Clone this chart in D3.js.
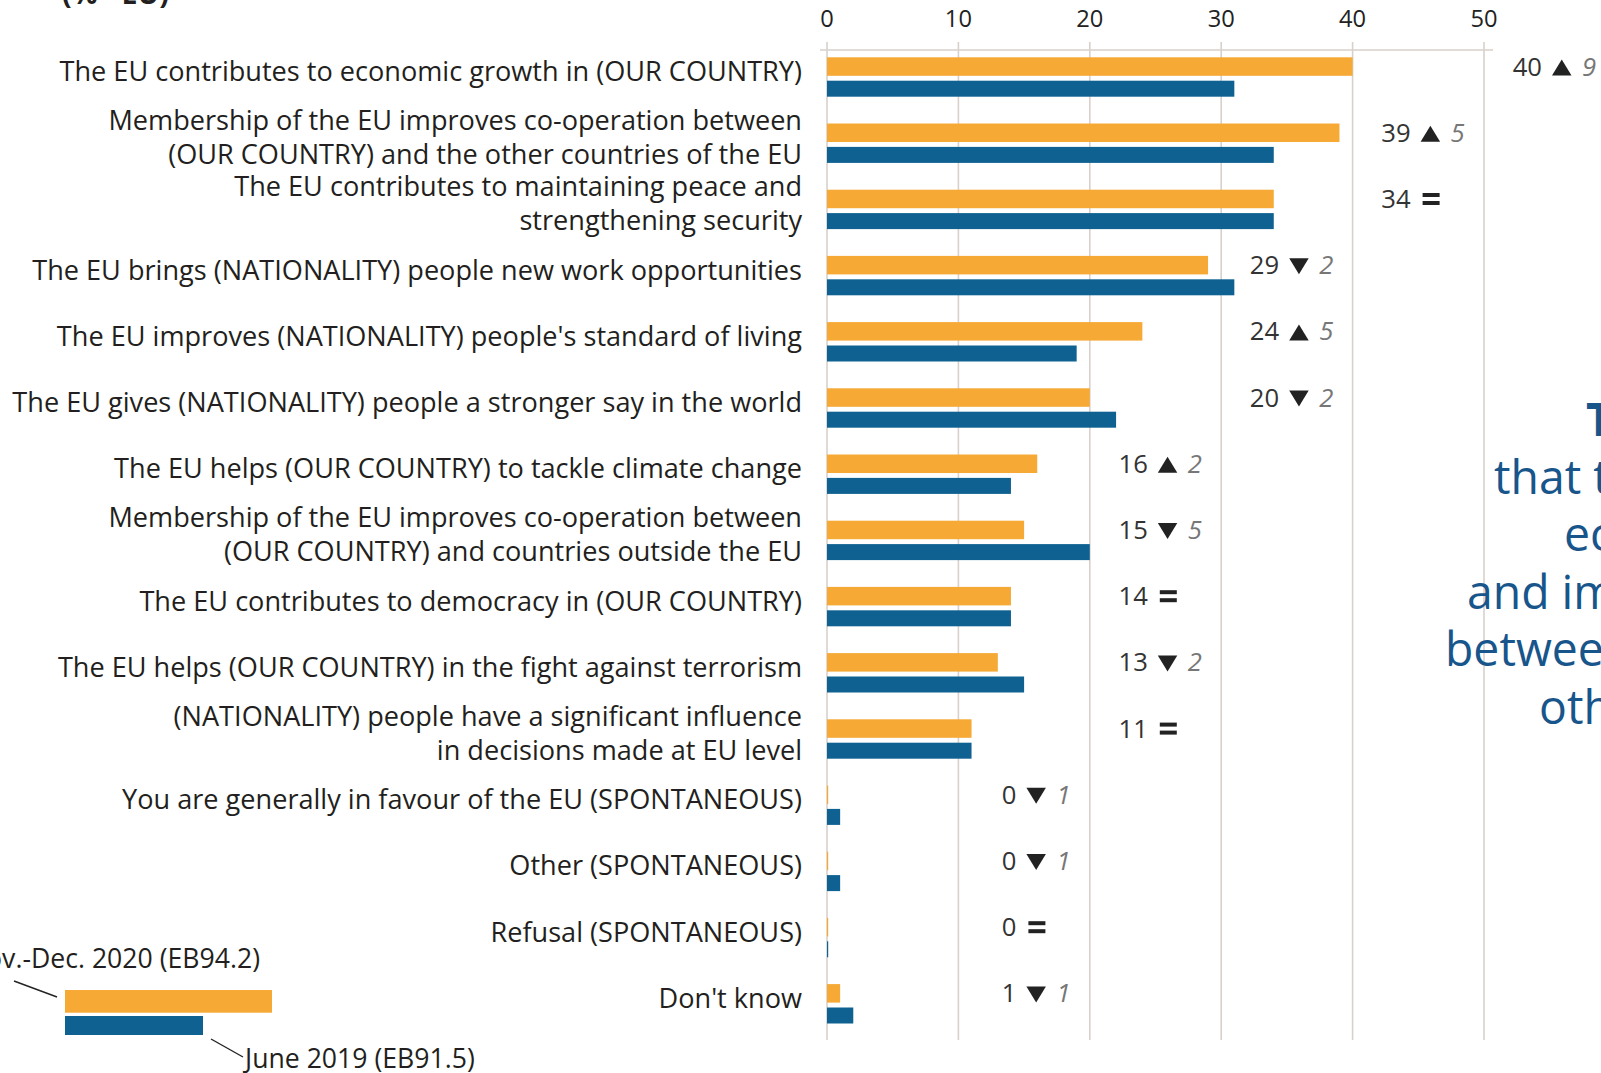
<!DOCTYPE html>
<html><head><meta charset="utf-8">
<script src="https://cdn.jsdelivr.net/npm/d3@7"></script>
<style>html,body{margin:0;padding:0;background:#fff;overflow:hidden;} svg{display:block;}</style>
</head><body>
<svg id="chart" width="1601" height="1073"></svg>
<script>
// ---------- DATA ----------
const categories = [
  "The EU contributes to economic growth in (OUR COUNTRY)",
  "Membership of the EU improves co-operation between|(OUR COUNTRY) and the other countries of the EU",
  "The EU contributes to maintaining peace and|strengthening security",
  "The EU brings (NATIONALITY) people new work opportunities",
  "The EU improves (NATIONALITY) people's standard of living",
  "The EU gives (NATIONALITY) people a stronger say in the world",
  "The EU helps (OUR COUNTRY) to tackle climate change",
  "Membership of the EU improves co-operation between|(OUR COUNTRY) and countries outside the EU",
  "The EU contributes to democracy in (OUR COUNTRY)",
  "The EU helps (OUR COUNTRY) in the fight against terrorism",
  "(NATIONALITY) people have a significant influence|in decisions made at EU level",
  "You are generally in favour of the EU (SPONTANEOUS)",
  "Other (SPONTANEOUS)",
  "Refusal (SPONTANEOUS)",
  "Don't know"
];
const values2020 = [40, 39, 34, 29, 24, 20, 16, 15, 14, 13, 11, 0, 0, 0, 1];
const values2019 = [31, 34, 34, 31, 19, 22, 14, 20, 14, 15, 11, 1, 1, 0, 2];
const changes    = [ 9,  5,  0, -2,  5, -2,  2, -5,  0, -2,  0, -1, -1, 0, -1];
const xTicks = [0, 10, 20, 30, 40, 50];
const seriesNames = ["Nov.-Dec. 2020 (EB94.2)", "June 2019 (EB91.5)"];
const unitLabel = "(% - EU)";
const calloutLines = [
  "The top reasons",
  "that the EU contributes to",
  "economic growth",
  "and improves co-operation",
  "between (OUR COUNTRY) and the",
  "other countries of the EU"
];

// ---------- STYLE ----------
const FONT = "'Open Sans', 'Noto Sans', sans-serif";
const ORANGE = "#f6a935", BLUE = "#0f6192", GRID = "#d8d1cb", TXT = "#231f20";
const CALLOUT = "#17558b";

const svg = d3.select("#chart");
const x = d3.scaleLinear().domain([0, 50]).range([827, 1484]);
const y = d3.scaleBand().domain(categories).range([49, 49 + 15 * 66.2]);

// horizontal condensation factor to mimic the narrow source typeface
const probe = svg.append("text").attr("font-family", FONT).attr("font-size", 27.5).text(categories[0]);
const sx = 743 / probe.node().getComputedTextLength();
probe.remove();

function stext(g, tx, ty, str, size, anchor) {
  return g.append("text")
    .attr("transform", `translate(${tx},${ty}) scale(${sx},1)`)
    .attr("font-family", FONT).attr("font-size", size)
    .attr("text-anchor", anchor).attr("fill", TXT).text(str);
}

// ---------- GRID ----------
const grid = svg.append("g");
grid.selectAll("line.g").data(xTicks).join("line")
  .attr("x1", d => x(d)).attr("x2", d => x(d))
  .attr("y1", 42).attr("y2", 1040)
  .attr("stroke", GRID).attr("stroke-width", 1.6);
grid.append("line").attr("x1", x(0) - 7).attr("x2", x(50) + 9)
  .attr("y1", 50).attr("y2", 50).attr("stroke", GRID).attr("stroke-width", 1.6);

// tick labels
xTicks.forEach(t => stext(svg, x(t), 26.5, String(t), 24, "middle").attr("fill", "#222"));

// ---------- BARS ----------
const bars = svg.append("g");
bars.selectAll("rect.o").data(categories).join("rect")
  .attr("x", x(0)).attr("y", d => y(d) + 8.3)
  .attr("width", (d, i) => Math.max(1.2, x(values2020[i]) - x(0)))
  .attr("height", 18.5).attr("fill", ORANGE);
bars.selectAll("rect.b").data(categories).join("rect")
  .attr("x", x(0)).attr("y", d => y(d) + 31.7)
  .attr("width", (d, i) => Math.max(1.2, x(values2019[i]) - x(0)))
  .attr("height", 16).attr("fill", BLUE);

// ---------- CATEGORY LABELS ----------
categories.forEach(c => {
  const lines = c.split("|");
  const base = y(c) + 8.3 + 23.6;
  if (lines.length === 1) {
    stext(svg, 802, base, lines[0], 27.5, "end");
  } else {
    stext(svg, 802, base - 16.9, lines[0], 27.5, "end");
    stext(svg, 802, base + 16.9, lines[1], 27.5, "end");
  }
});

// ---------- VALUE LABELS ----------
categories.forEach((c, i) => {
  const v = values2020[i], ch = changes[i];
  const anchorVal = Math.floor(v / 10) * 10 + 10;
  const numEnd = x(anchorVal) + 58;
  const base = y(c) + 8.3 + 18.3;
  stext(svg, numEnd, base, String(v), 26, "end").attr("fill", "#333");
  if (ch > 0) {
    svg.append("path").attr("d", `M${numEnd + 10},${base} L${numEnd + 29.5},${base} L${numEnd + 19.75},${base - 16} Z`).attr("fill", "#222");
  } else if (ch < 0) {
    svg.append("path").attr("d", `M${numEnd + 10},${base - 16} L${numEnd + 29.5},${base - 16} L${numEnd + 19.75},${base} Z`).attr("fill", "#222");
  }
  if (ch !== 0) {
    stext(svg, numEnd + 40, base, String(Math.abs(ch)), 26, "start")
      .attr("font-style", "italic").attr("fill", "#777");
  } else {
    svg.append("rect").attr("x", numEnd + 12).attr("y", base - 15).attr("width", 17).attr("height", 4).attr("fill", "#222");
    svg.append("rect").attr("x", numEnd + 12).attr("y", base - 7).attr("width", 17).attr("height", 4).attr("fill", "#222");
  }
});

// ---------- LEGEND ----------
const lg = svg.append("g");
lg.append("rect").attr("x", 65).attr("y", 990).attr("width", 207).attr("height", 22.7).attr("fill", ORANGE);
lg.append("rect").attr("x", 65).attr("y", 1016).attr("width", 138).attr("height", 19).attr("fill", BLUE);
lg.append("line").attr("x1", 14).attr("y1", 981).attr("x2", 57).attr("y2", 997).attr("stroke", "#222").attr("stroke-width", 1.4);
lg.append("line").attr("x1", 211).attr("y1", 1039).attr("x2", 243).attr("y2", 1057).attr("stroke", "#222").attr("stroke-width", 1.4);
stext(lg, 260, 968, seriesNames[0], 27, "end");
stext(lg, 245, 1068, seriesNames[1], 27, "start");

// ---------- UNIT LABEL ----------
stext(svg, 62, 4, unitLabel, 29, "start").attr("font-weight", "bold");

// ---------- CALLOUT ----------
const calloutStarts = [1586, 1494, 1564, 1467, 1445, 1539];
calloutLines.forEach((l, i) => {
  const t = stext(svg, calloutStarts[i], 436 + i * 57.6, l, 47, "start").attr("fill", CALLOUT);
  if (i === 0) t.attr("font-weight", "bold");
});
</script>
</body></html>
